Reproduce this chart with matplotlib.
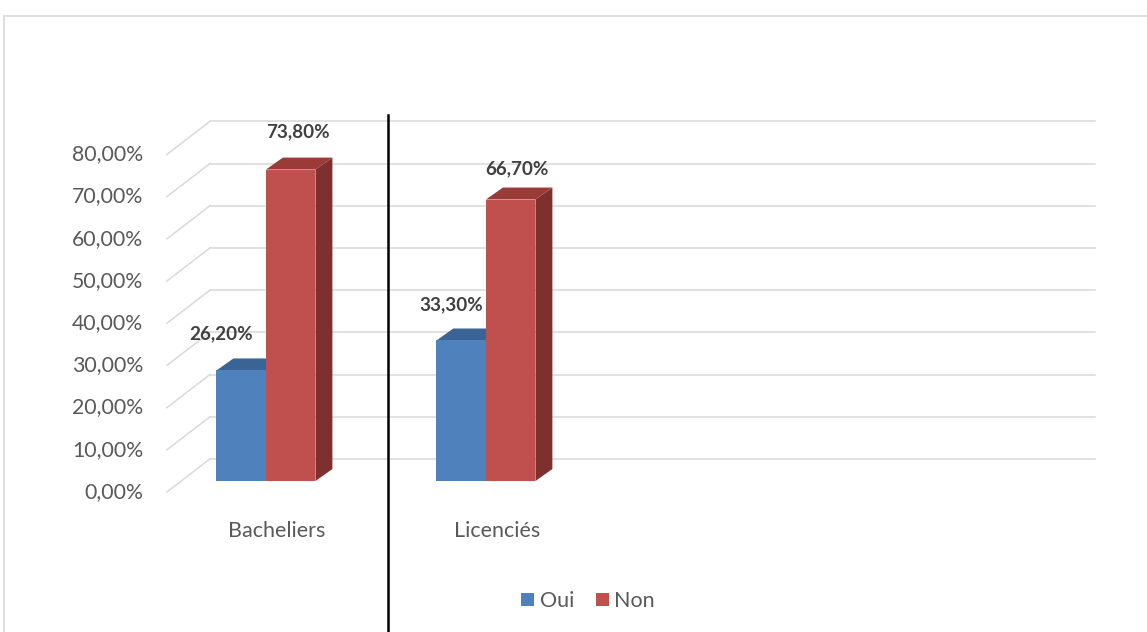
import matplotlib.pyplot as plt
from matplotlib.patches import Polygon, Patch
from matplotlib.lines import Line2D

plt.rcParams['font.family'] = ['Lato', 'DejaVu Sans']

categories = ['Bacheliers', 'Licenciés']
series = ['Oui', 'Non']
oui = [26.2, 33.3]
non = [73.8, 66.7]
labels_oui = ['26,20%', '33,30%']
labels_non = ['73,80%', '66,70%']
yticks = [0, 10, 20, 30, 40, 50, 60, 70, 80]

# couleurs des faces (avant, dessus, côté)
faces = {
    'Oui': ('#4f81bd', '#3b6496', '#385d8a'),
    'Non': ('#c0504d', '#9a3b38', '#7d302e'),
}

# décalages des étiquettes (pixels) par rapport au sommet de la barre
offsets = {
    'Oui': [(-20, 37), (-10, 36)],
    'Non': [(7, 38), (6, 31)],
}

W = 0.225       # largeur d'une barre
DX, DY = 0.077, 2.84   # profondeur des barres
FX, FY = -0.45, -2.6   # bord avant du sol
BX, BY = -0.2545, 5.23 # mur du fond
XEND = 3.768

fig = plt.figure(figsize=(11.47, 6.32), dpi=100)
ax = fig.add_axes([0, 0, 1, 1])
ax.set_xlim(-1.209, 4.005)
ax.set_ylim(-35.78, 113.98)
ax.axis('off')

# quadrillage : mur du fond + diagonales du sol
for v in yticks:
    ax.plot([FX, BX], [v + FY, v + BY], color='#d9d9d9', lw=1.1, zorder=1)
    ax.plot([BX, XEND], [v + BY, v + BY], color='#d9d9d9', lw=1.1, zorder=1)
    ax.text(-0.559, v + FY, f'{v},00%', ha='right', va='center',
            fontsize=15.3, color='#595959')


def bar3d(x0, h, name):
    front, top, side = faces[name]
    ax.add_patch(Polygon([(x0 + W, 0), (x0 + W + DX, DY), (x0 + W + DX, h + DY), (x0 + W, h)],
                         closed=True, facecolor=side, edgecolor='none', zorder=3))
    ax.add_patch(Polygon([(x0, h), (x0 + W, h), (x0 + W + DX, h + DY), (x0 + DX, h + DY)],
                         closed=True, facecolor=top, edgecolor='none', zorder=3))
    ax.add_patch(Polygon([(x0, 0), (x0 + W, 0), (x0 + W, h), (x0, h)],
                         closed=True, facecolor=front, edgecolor='none', zorder=4))


for i, cat in enumerate(categories):
    # la barre rouge devant le côté de la bleue
    bar3d(i - W, oui[i], 'Oui')
    bar3d(i, non[i], 'Non')
    ax.annotate(labels_oui[i], (i - W / 2, oui[i]), xytext=offsets['Oui'][i],
                textcoords='offset pixels', ha='center', va='center',
                fontsize=13.6, fontweight='bold', color='#404040', zorder=6)
    ax.annotate(labels_non[i], (i + W / 2, non[i]), xytext=offsets['Non'][i],
                textcoords='offset pixels', ha='center', va='center',
                fontsize=13.6, fontweight='bold', color='#404040', zorder=6)
    ax.text(i + 0.05, -11.8, cat, ha='center', va='center',
            fontsize=15.5, color='#595959')

# trait vertical noir séparant les catégories
ax.plot([0.5545, 0.5545], [86.7, -36], color='black', lw=1.8, zorder=5, clip_on=False)

# cadre du graphique
fig.add_artist(Line2D([4 / 1147, 4 / 1147], [0, 1 - 16 / 632], color='#d9d9d9', lw=1.2))
fig.add_artist(Line2D([4 / 1147, 1], [1 - 16 / 632, 1 - 16 / 632], color='#d9d9d9', lw=1.2))

handles = [Patch(facecolor=faces[s][0], edgecolor='none', label=s) for s in series]
fig.legend(handles=handles, loc='center', bbox_to_anchor=(588 / 1147, 1 - 601 / 632),
           ncol=2, frameon=False, fontsize=15.5, handlelength=0.6, handleheight=0.6,
           handletextpad=0.25, columnspacing=1.0, labelcolor='#595959')

fig.savefig('out.png', dpi=100)
